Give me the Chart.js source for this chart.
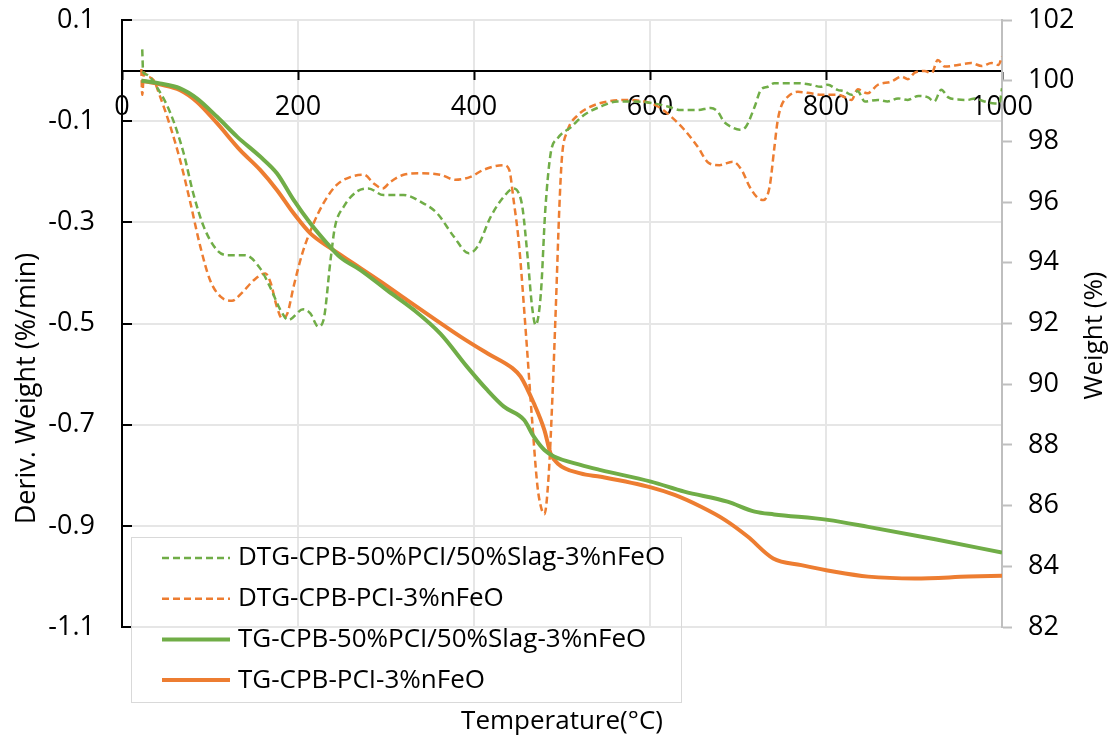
<!DOCTYPE html>
<html>
<head>
<meta charset="utf-8">
<script src="https://cdn.jsdelivr.net/npm/chart.js@4.4.1/dist/chart.umd.min.js"></script>
<style>
  html, body { margin: 0; padding: 0; background: #fff; }
  #wrap { width: 1110px; height: 746px; }
</style>
</head>
<body>
<div id="wrap"><canvas id="tgChart"></canvas></div>
<script>
// DTG, CPB-50%PCI/50%Slag-3%nFeO  (°C, %/min)
const dtgSlagTemp = [23, 24, 28, 39, 55, 70, 81, 93, 108, 119, 140, 157, 168, 180, 189, 206, 214, 223, 229, 237, 242, 252, 267, 280, 297, 320, 339, 358, 377, 394, 404, 419, 434, 445, 451, 455, 461, 466, 470, 476, 481, 487, 495, 510, 525, 544, 563, 582, 605, 620, 635, 654, 669, 677, 684, 692, 702, 709, 719, 726, 734, 741, 753, 768, 783, 794, 802, 813, 821, 829, 836, 844, 859, 870, 882, 893, 905, 916, 923, 931, 939, 950, 961, 969, 980, 992, 997, 1000];
const dtgSlagRate = [0.042, -0.003, -0.008, -0.031, -0.084, -0.163, -0.243, -0.309, -0.355, -0.365, -0.365, -0.391, -0.427, -0.473, -0.493, -0.472, -0.48, -0.506, -0.493, -0.374, -0.309, -0.269, -0.239, -0.233, -0.246, -0.246, -0.259, -0.282, -0.328, -0.361, -0.348, -0.289, -0.249, -0.233, -0.243, -0.27, -0.37, -0.467, -0.503, -0.44, -0.276, -0.165, -0.134, -0.112, -0.088, -0.071, -0.061, -0.061, -0.065, -0.071, -0.078, -0.078, -0.074, -0.081, -0.101, -0.111, -0.117, -0.111, -0.071, -0.038, -0.032, -0.025, -0.025, -0.025, -0.028, -0.032, -0.028, -0.038, -0.041, -0.048, -0.041, -0.061, -0.058, -0.061, -0.055, -0.058, -0.05, -0.053, -0.061, -0.038, -0.053, -0.057, -0.058, -0.055, -0.061, -0.065, -0.065, -0.035];

// DTG, CPB-PCI-3%nFeO
const dtgPciTemp = [22, 23, 25, 28, 36, 43, 55, 66, 77, 89, 100, 112, 125, 136, 150, 163, 169, 176, 182, 188, 195, 205, 216, 229, 244, 260, 275, 286, 296, 305, 320, 339, 362, 379, 396, 411, 434, 440, 445, 451, 459, 466, 472, 476, 480, 485, 489, 493, 497, 500, 506, 518, 533, 552, 571, 590, 609, 624, 639, 654, 667, 679, 694, 704, 713, 721, 729, 736, 741, 745, 749, 757, 768, 783, 795, 814, 829, 836, 847, 859, 874, 886, 893, 901, 912, 920, 927, 935, 950, 965, 977, 988, 996, 1000];
const dtgPciRate = [0.003, -0.048, -0.004, -0.01, -0.019, -0.05, -0.111, -0.177, -0.256, -0.348, -0.414, -0.447, -0.455, -0.44, -0.414, -0.401, -0.42, -0.467, -0.49, -0.48, -0.427, -0.361, -0.309, -0.262, -0.226, -0.21, -0.206, -0.223, -0.233, -0.22, -0.206, -0.203, -0.206, -0.216, -0.21, -0.196, -0.187, -0.196, -0.256, -0.341, -0.52, -0.69, -0.82, -0.862, -0.877, -0.796, -0.65, -0.467, -0.27, -0.17, -0.12, -0.088, -0.071, -0.061, -0.058, -0.06, -0.071, -0.091, -0.117, -0.15, -0.183, -0.187, -0.18, -0.196, -0.229, -0.249, -0.256, -0.229, -0.157, -0.1, -0.071, -0.051, -0.042, -0.045, -0.048, -0.048, -0.058, -0.037, -0.045, -0.028, -0.022, -0.012, -0.017, -0.004, -0.001, -0.005, 0.021, 0.008, 0.011, 0.015, 0.009, 0.015, 0.011, 0.028];

// TG (weight %)
const tgSlagTemp = [22, 43, 66, 85, 108, 131, 157, 176, 195, 214, 233, 248, 271, 301, 332, 362, 392, 415, 434, 457, 468, 480, 491, 521, 544, 601, 639, 688, 719, 741, 802, 848, 924, 1000];
const tgSlagWeight = [100.0, 99.91, 99.75, 99.42, 98.81, 98.15, 97.5, 96.95, 96.07, 95.3, 94.64, 94.18, 93.76, 93.1, 92.44, 91.66, 90.58, 89.81, 89.26, 88.82, 88.27, 87.83, 87.62, 87.34, 87.17, 86.79, 86.46, 86.13, 85.8, 85.71, 85.53, 85.3, 84.89, 84.45];
const tgPciTemp = [22, 43, 66, 85, 108, 134, 157, 176, 195, 214, 237, 263, 294, 324, 354, 385, 415, 444, 453, 468, 480, 487, 495, 521, 544, 601, 628, 658, 685, 711, 740, 772, 810, 848, 901, 962, 1000];
const tgPciWeight = [100.0, 99.88, 99.69, 99.31, 98.6, 97.72, 97.06, 96.4, 95.63, 94.97, 94.48, 93.98, 93.38, 92.77, 92.17, 91.56, 91.02, 90.52, 90.25, 89.37, 88.49, 87.72, 87.39, 87.06, 86.95, 86.6, 86.35, 85.96, 85.53, 84.98, 84.26, 84.04, 83.82, 83.66, 83.6, 83.66, 83.69];

const tempTicks = [0, 200, 400, 600, 800, 1000];
const derivTicks = [-1.1, -0.9, -0.7, -0.5, -0.3, -0.1, 0.1];
const weightTicks = [82, 84, 86, 88, 90, 92, 94, 96, 98, 100, 102];

const GREEN = '#70AD47';
const ORANGE = '#ED7D31';
const FONT = '"Open Sans", sans-serif';

const pts = (xs, ys) => xs.map((x, i) => ({ x: x, y: ys[i] }));
const setTicks = list => scale => { scale.ticks = list.map(v => ({ value: v })); };
// fixed axis widths; drop the label overhang so the plot keeps its own top/bottom
const fixWidth = w => s => { s.width = w; s.paddingTop = 0; s.paddingBottom = 0; };

Chart.defaults.font.family = FONT;
Chart.defaults.font.size = 27;
Chart.defaults.color = '#000';

// inward tick marks on the left axis
const innerTicks = {
  id: 'innerTicks',
  beforeDatasetsDraw(chart) {
    const { ctx, scales: { y }, chartArea } = chart;
    ctx.save();
    ctx.strokeStyle = '#000';
    ctx.lineWidth = 2;
    y.ticks.forEach(t => {
      const py = Math.round(y.getPixelForValue(t.value));
      ctx.beginPath();
      ctx.moveTo(chartArea.left, py);
      ctx.lineTo(chartArea.left + 10, py);
      ctx.stroke();
    });
    ctx.restore();
  }
};

// boxed legend in the lower-left of the plot, plus both y axis titles
const boxLegend = {
  id: 'boxLegend',
  afterDraw(chart) {
    const { ctx, chartArea } = chart;
    const left = chartArea.left + 9;
    const top = chartArea.bottom - 90;
    ctx.save();
    ctx.strokeStyle = '#d9d9d9';
    ctx.lineWidth = 1;
    ctx.strokeRect(left + 0.5, top + 0.5, 550, 165);
    ctx.font = '26px ' + FONT;
    ctx.textBaseline = 'middle';
    ctx.fillStyle = '#000';
    chart.data.datasets.forEach((ds, i) => {
      const cy = top + 21 + i * 40.7;
      ctx.beginPath();
      ctx.strokeStyle = ds.borderColor;
      ctx.lineWidth = ds.borderWidth;
      ctx.setLineDash(ds.borderDash || []);
      ctx.moveTo(left + 31, cy);
      ctx.lineTo(left + 99, cy);
      ctx.stroke();
      ctx.setLineDash([]);
      ctx.fillText(ds.label, left + 107, cy);
    });
    ctx.restore();

    // axis titles, both reading bottom to top
    ctx.save();
    ctx.font = '26px ' + FONT;
    ctx.fillStyle = '#000';
    ctx.textAlign = 'center';
    ctx.textBaseline = 'middle';
    ctx.translate(chart.scales.y1.right - 15, (chartArea.top + chartArea.bottom) / 2 + 12);
    ctx.rotate(-Math.PI / 2);
    ctx.fillText('Weight (%)', 0, 0);
    ctx.restore();

    ctx.save();
    ctx.font = '27px ' + FONT;
    ctx.fillStyle = '#000';
    ctx.textAlign = 'center';
    ctx.textBaseline = 'middle';
    ctx.translate(chart.scales.y.left + 27, (chartArea.top + chartArea.bottom) / 2 + 65);
    ctx.rotate(-Math.PI / 2);
    ctx.fillText('Deriv. Weight (%/min)', 0, 0);
    ctx.restore();
  }
};

new Chart(document.getElementById('tgChart'), {
  type: 'line',
  data: {
    datasets: [
      {
        label: 'DTG-CPB-50%PCI/50%Slag-3%nFeO',
        data: pts(dtgSlagTemp, dtgSlagRate),
        yAxisID: 'y',
        borderColor: GREEN,
        borderWidth: 2.5,
        borderDash: [7, 4],
        order: 1
      },
      {
        label: 'DTG-CPB-PCI-3%nFeO',
        data: pts(dtgPciTemp, dtgPciRate),
        yAxisID: 'y',
        borderColor: ORANGE,
        borderWidth: 2.5,
        borderDash: [7, 4],
        order: 1
      },
      {
        label: 'TG-CPB-50%PCI/50%Slag-3%nFeO',
        data: pts(tgSlagTemp, tgSlagWeight),
        yAxisID: 'y1',
        borderColor: GREEN,
        borderWidth: 4,
        order: 0
      },
      {
        label: 'TG-CPB-PCI-3%nFeO',
        data: pts(tgPciTemp, tgPciWeight),
        yAxisID: 'y1',
        borderColor: ORANGE,
        borderWidth: 4,
        order: 0
      }
    ]
  },
  options: {
    responsive: true,
    maintainAspectRatio: false,
    animation: false,
    layout: { padding: { top: 20, left: 0, right: 0, bottom: 0 } },
    elements: {
      point: { radius: 0 },
      line: { tension: 0.4, cubicInterpolationMode: 'monotone', fill: false }
    },
    plugins: {
      legend: { display: false },
      tooltip: { enabled: false }
    },
    scales: {
      x: {
        type: 'linear',
        min: 0,
        max: 1000,
        position: 'bottom',
        afterBuildTicks: setTicks(tempTicks),
        ticks: { display: false },
        grid: { color: '#e6e6e6', lineWidth: 2, drawTicks: false },
        border: { display: false },
        title: {
          display: true,
          text: 'Temperature(°C)',
          font: { size: 26 },
          padding: { top: 0, bottom: 9 }
        },
        afterFit: s => { s.height = 119; }
      },
      x2: {
        type: 'linear',
        min: 0,
        max: 1000,
        position: { y: 0 },
        afterBuildTicks: setTicks(tempTicks),
        ticks: { padding: 13, callback: v => String(v) },
        grid: { drawOnChartArea: false, drawTicks: true, tickLength: 8, tickColor: '#000', tickWidth: 2 },
        border: { color: '#000', width: 2 },
        afterFit: s => { s.height = 0; }
      },
      y: {
        type: 'linear',
        position: 'left',
        min: -1.1,
        max: 0.1,
        afterBuildTicks: setTicks(derivTicks),
        ticks: { padding: 27, callback: v => v.toFixed(1) },
        grid: { color: '#e6e6e6', lineWidth: 2, drawTicks: false },
        border: { color: '#000', width: 2 },
        afterFit: fixWidth(122)
      },
      y1: {
        type: 'linear',
        position: 'right',
        min: 82,
        max: 102,
        afterBuildTicks: setTicks(weightTicks),
        ticks: { padding: 16, callback: v => String(v) },
        grid: { drawOnChartArea: false, drawTicks: true, tickLength: 10, tickColor: '#bfbfbf', tickWidth: 2 },
        border: { color: '#bfbfbf', width: 2 },
        afterFit: fixWidth(108)
      }
    }
  },
  plugins: [innerTicks, boxLegend]
});
</script>
</body>
</html>
